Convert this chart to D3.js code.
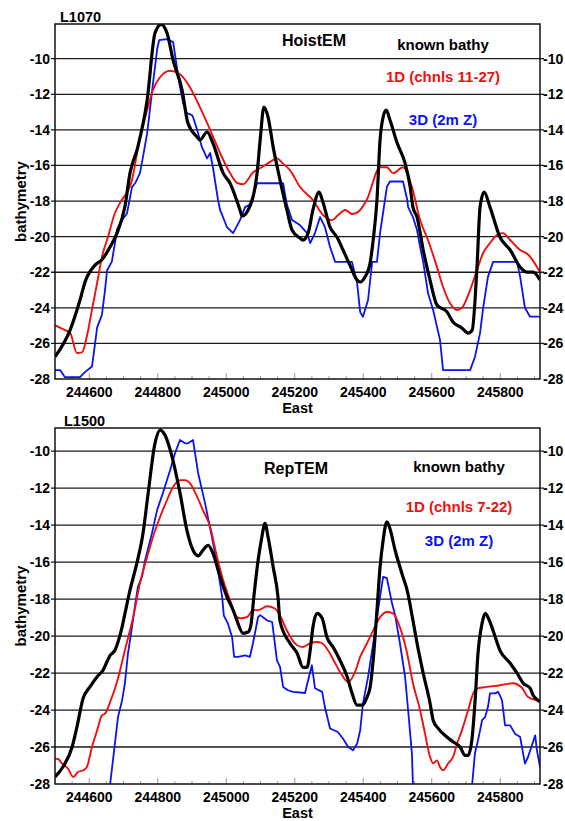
<!DOCTYPE html>
<html>
<head>
<meta charset="utf-8">
<script src="https://cdn.jsdelivr.net/npm/d3@7"></script>
<style>
  body { margin: 0; background: #fff; }
  text { font-family: "Liberation Sans", Arial, sans-serif; font-weight: bold; }
</style>
</head>
<body>
<div id="vis"></div>
<script>
// tick values shared by both panels
const xTicks = [244600, 244800, 245000, 245200, 245400, 245600, 245800];
const yTicks = [-10, -12, -14, -16, -18, -20, -22, -24, -26, -28];

// L1070 / HoistEM  -- [East, depth]
const topBathy = [
  [244500, -26.75], [244544, -25.25], [244573, -23.56], [244588, -22.53], [244617, -21.6],
  [244637, -21.3], [244661, -20.57], [244681, -19.8], [244704, -18.32], [244719, -16.43],
  [244742, -14.95], [244769, -12.33], [244792, -8.56], [244810, -8.07], [244827, -8.56],
  [244845, -10.1], [244871, -11.76], [244888, -13.62], [244915, -14.4], [244923, -14.57],
  [244944, -14.12], [244961, -14.74], [244991, -16.43], [245011, -17.0], [245040, -18.5],
  [245046, -18.84], [245064, -18.5], [245090, -16.43], [245099, -14.57], [245110, -12.72],
  [245122, -13.28], [245137, -14.97], [245157, -16.82], [245177, -18.5], [245192, -19.63],
  [245215, -20.08], [245224, -20.19], [245239, -19.8], [245253, -18.5], [245271, -17.5],
  [245283, -18.11], [245303, -19.46], [245323, -20.02], [245341, -20.75], [245361, -21.6],
  [245382, -22.44], [245391, -22.55], [245405, -22.27], [245420, -21.48], [245429, -20.19],
  [245440, -17.94], [245449, -14.57], [245458, -13.28], [245467, -12.89], [245478, -13.45],
  [245499, -14.74], [245522, -15.87], [245537, -17.21], [245545, -18.34], [245557, -18.9],
  [245575, -20.75], [245595, -22.44], [245615, -23.84], [245645, -24.24], [245662, -24.8],
  [245688, -25.13], [245706, -25.42], [245718, -25.25], [245732, -21.71], [245741, -18.34],
  [245753, -17.5], [245770, -18.34], [245799, -20.02], [245829, -20.75], [245858, -21.71],
  [245878, -21.99], [245896, -21.99], [245916, -22.44]
];
const top1D = [
  [244500, -24.97], [244529, -25.25], [244544, -25.4], [244564, -26.54], [244579, -26.5],
  [244593, -25.6], [244608, -24.1], [244623, -22.6], [244637, -21.15], [244655, -20.0],
  [244675, -18.67], [244690, -18.1], [244725, -16.8], [244748, -14.4], [244769, -12.9],
  [244786, -11.76], [244807, -11.03], [244836, -10.68], [244865, -10.87], [244894, -11.6],
  [244923, -12.72], [244953, -14.0], [244982, -15.3], [245011, -16.43], [245034, -17.0],
  [245049, -17.05], [245078, -16.4], [245104, -16.1], [245128, -15.8], [245148, -15.6],
  [245166, -15.9], [245186, -16.26], [245215, -17.2], [245253, -17.94], [245283, -18.8],
  [245309, -19.07], [245326, -18.8], [245347, -18.5], [245367, -18.73], [245391, -18.5],
  [245411, -17.9], [245449, -16.1], [245469, -16.1], [245487, -16.43], [245516, -16.1],
  [245542, -17.2], [245566, -19.07], [245589, -20.19], [245615, -21.7], [245633, -22.83],
  [245653, -23.73], [245674, -24.12], [245688, -24.0], [245712, -23.0], [245732, -21.88],
  [245750, -20.92], [245770, -20.36], [245791, -19.9], [245808, -19.8], [245829, -20.19],
  [245858, -20.75], [245881, -21.0], [245916, -21.99]
];
const top3D = [
  [244500, -27.5], [244515, -27.5], [244529, -27.9], [244573, -27.9], [244588, -27.6],
  [244608, -27.3], [244617, -26.0], [244623, -25.1], [244637, -24.4], [244646, -23.0],
  [244652, -21.9], [244666, -21.4], [244675, -20.36], [244681, -19.6], [244696, -19.07],
  [244710, -18.7], [244725, -17.2], [244734, -17.0], [244748, -16.43], [244757, -15.5],
  [244769, -14.2], [244777, -12.9], [244786, -11.4], [244798, -9.5], [244804, -8.96],
  [244827, -8.9], [244845, -9.07], [244856, -10.5], [244865, -11.6], [244874, -12.5],
  [244885, -13.06], [244900, -13.17], [244903, -13.28], [244915, -14.0], [244929, -14.97],
  [244944, -15.6], [244953, -15.3], [244961, -16.1], [244976, -17.94], [244982, -18.5],
  [245002, -19.46], [245020, -19.8], [245040, -19.07], [245055, -18.34], [245069, -18.2],
  [245090, -17.0], [245119, -17.0], [245166, -17.0], [245177, -18.2], [245192, -19.07],
  [245215, -19.35], [245236, -19.8], [245245, -20.36], [245259, -19.8], [245274, -18.9],
  [245288, -19.46], [245303, -20.58], [245318, -21.42], [245367, -21.42], [245382, -22.6],
  [245391, -24.24], [245399, -24.5], [245414, -23.56], [245426, -21.42], [245440, -21.42],
  [245449, -19.8], [245469, -17.2], [245478, -16.9], [245516, -16.9], [245528, -17.9],
  [245531, -18.34], [245545, -18.9], [245557, -19.63], [245566, -20.58], [245575, -21.42],
  [245589, -23.17], [245604, -24.12], [245624, -25.8], [245633, -27.5], [245712, -27.5],
  [245726, -26.76], [245741, -25.42], [245750, -24.0], [245764, -22.26], [245779, -21.42],
  [245849, -21.42], [245858, -22.26], [245872, -24.0], [245887, -24.5], [245916, -24.5]
];

// L1500 / RepTEM
const botBathy = [
  [244500, -27.62], [244523, -27.08], [244550, -26.0], [244564, -24.92], [244582, -23.37],
  [244602, -22.75], [244623, -22.2], [244640, -21.85], [244661, -21.04], [244675, -20.77],
  [244684, -20.32], [244696, -19.5], [244704, -18.8], [244719, -17.52], [244739, -16.06],
  [244757, -14.44], [244772, -12.27], [244792, -9.57], [244807, -8.86], [244821, -9.13],
  [244842, -10.32], [244865, -12.27], [244885, -14.27], [244903, -15.36], [244918, -15.66],
  [244932, -15.36], [244947, -15.09], [244961, -15.52], [244982, -16.8], [245002, -17.88],
  [245020, -18.6], [245031, -19.15], [245049, -19.85], [245064, -19.78], [245072, -19.4],
  [245081, -17.8], [245093, -15.9], [245104, -14.64], [245113, -13.9], [245122, -14.64],
  [245137, -16.26], [245151, -17.88], [245157, -19.2], [245186, -20.39], [245207, -20.93],
  [245224, -21.69], [245236, -21.69], [245245, -20.77], [245253, -19.52], [245265, -18.77],
  [245280, -19.04], [245294, -20.07], [245312, -20.6], [245332, -21.31], [245353, -22.2],
  [245367, -23.08], [245382, -23.74], [245397, -23.74], [245411, -23.3], [245420, -22.77],
  [245429, -21.3], [245440, -18.6], [245449, -16.28], [245458, -14.82], [245469, -13.82],
  [245478, -14.2], [245493, -15.36], [245516, -16.8], [245528, -17.52], [245545, -19.15],
  [245557, -20.39], [245575, -22.01], [245595, -23.63], [245604, -24.55], [245618, -24.98],
  [245645, -25.47], [245662, -25.72], [245683, -26.0], [245697, -26.45], [245706, -26.45],
  [245718, -25.47], [245726, -23.63], [245735, -20.93], [245747, -19.3], [245756, -18.77],
  [245764, -18.98], [245779, -19.7], [245799, -20.77], [245829, -21.47], [245849, -22.01],
  [245867, -22.55], [245887, -22.82], [245896, -23.2], [245910, -23.47], [245916, -23.55]
];
const bot1D = [
  [244500, -26.63], [244509, -26.65], [244520, -26.88], [244538, -27.17], [244553, -27.62],
  [244567, -27.35], [244582, -27.26], [244593, -27.08], [244608, -26.0], [244623, -25.1],
  [244637, -24.29], [244646, -24.2], [244661, -23.56], [244675, -22.84], [244690, -21.85],
  [244704, -20.77], [244719, -19.69], [244728, -19.0], [244748, -17.14], [244769, -15.72],
  [244786, -14.64], [244807, -13.55], [244827, -12.65], [244845, -11.93], [244865, -11.57],
  [244880, -11.57], [244894, -11.73], [244915, -12.47], [244932, -13.19], [244953, -14.1],
  [244973, -15.72], [244991, -16.98], [245011, -18.06], [245031, -18.97], [245040, -19.04],
  [245061, -18.97], [245078, -18.6], [245093, -18.6], [245119, -18.39], [245142, -18.51],
  [245160, -19.0], [245177, -19.7], [245207, -20.5], [245224, -20.59], [245245, -20.39],
  [245265, -20.32], [245280, -20.39], [245297, -20.77], [245318, -21.47], [245338, -22.12],
  [245356, -22.5], [245376, -21.94], [245391, -21.13], [245411, -20.39], [245429, -19.69],
  [245449, -18.98], [245469, -18.7], [245487, -18.77], [245507, -19.52], [245528, -20.93],
  [245545, -22.55], [245566, -24.01], [245580, -25.25], [245595, -26.54], [245604, -26.88],
  [245615, -26.72], [245624, -27.08], [245633, -27.26], [245648, -26.88], [245662, -26.54],
  [245674, -25.8], [245688, -25.1], [245706, -24.01], [245721, -23.1], [245735, -22.82],
  [245761, -22.75], [245799, -22.66], [245837, -22.55], [245864, -22.82], [245881, -23.3],
  [245907, -23.47], [245916, -23.5]
];
const bot3D = [
  [244640, -29.5], [244661, -28.0], [244675, -25.8], [244684, -24.37], [244696, -23.47],
  [244704, -22.57], [244713, -20.95], [244725, -19.5], [244734, -18.3], [244742, -17.34],
  [244754, -16.8], [244763, -15.9], [244783, -14.45], [244798, -13.19], [244815, -12.27],
  [244836, -11.03], [244850, -10.13], [244865, -9.4], [244880, -9.58], [244888, -9.58],
  [244903, -9.4], [244918, -11.2], [244938, -12.81], [244958, -14.64], [244973, -16.08],
  [244988, -17.88], [244993, -18.9], [245005, -19.33], [245017, -20.05], [245023, -21.13],
  [245034, -21.13], [245055, -21.04], [245069, -21.13], [245078, -20.39], [245093, -18.97],
  [245099, -18.87], [245119, -19.15], [245134, -19.24], [245148, -21.31], [245157, -21.67],
  [245166, -22.75], [245180, -22.93], [245195, -23.02], [245230, -23.08], [245239, -22.39],
  [245250, -21.58], [245259, -22.82], [245280, -23.02], [245288, -23.84], [245303, -25.0],
  [245326, -25.19], [245341, -25.55], [245356, -26.0], [245370, -26.18], [245382, -25.82],
  [245391, -25.1], [245399, -23.65], [245414, -22.21], [245429, -20.41], [245440, -19.0],
  [245449, -17.88], [245458, -16.8], [245469, -16.87], [245484, -18.23], [245493, -18.87],
  [245507, -20.39], [245522, -22.2], [245531, -24.01], [245542, -26.34], [245545, -28.0],
  [245560, -30.5], [245700, -30.5], [245718, -28.0], [245726, -26.34], [245735, -25.64],
  [245747, -24.55], [245756, -24.37], [245764, -23.84], [245770, -23.1], [245785, -23.1],
  [245794, -23.02], [245805, -23.47], [245814, -24.83], [245829, -24.83], [245843, -25.28],
  [245858, -25.46], [245872, -26.9], [245881, -26.54], [245902, -25.37], [245907, -26.18],
  [245916, -27.08]
];

const panels = [
  {
    id: "p1", line: "L1070", lineX: 60, method: "HoistEM", oneD: "1D (chnls 11-27)",
    top: 24, bottom: 379, yMax: -8.05, legendX: 443,
    titleY: 46, titleX: 314, legendY: [50, 82, 125],
    bathy: topBathy, d1: top1D, d3: top3D
  },
  {
    id: "p2", line: "L1500", lineX: 64, method: "RepTEM", oneD: "1D (chnls 7-22)",
    top: 428, bottom: 784, yMax: -8.75, legendX: 459,
    titleY: 474, titleX: 296, legendY: [472, 512, 546],
    bathy: botBathy, d1: bot1D, d3: bot3D
  }
];

const W = 565, H = 821;
const left = 55, right = 540;

const svg = d3.select("#vis").append("svg")
  .attr("width", W).attr("height", H)
  .style("background", "#fff");

const xScale = d3.scaleLinear().domain([244500, 245916]).range([left, right]);

panels.forEach(p => {
  const yScale = d3.scaleLinear().domain([-28, p.yMax]).range([p.bottom, p.top]);
  const g = svg.append("g");

  svg.append("clipPath").attr("id", "clip-" + p.id)
    .append("rect")
    .attr("x", left).attr("y", p.top)
    .attr("width", right - left).attr("height", p.bottom - p.top);

  // horizontal grid, a bit past the frame on both sides
  g.selectAll(".grid")
    .data(yTicks.filter(t => t > -28))
    .enter().append("line")
    .attr("x1", left - 4).attr("x2", right + 4)
    .attr("y1", d => yScale(d)).attr("y2", d => yScale(d))
    .attr("stroke", "#1a1a1a").attr("stroke-width", 1.3);

  // small inward ticks on the East axis
  const minor = d3.range(244550, 245916, 50);
  g.selectAll(".xt")
    .data(minor)
    .enter().append("line")
    .attr("x1", d => xScale(d)).attr("x2", d => xScale(d))
    .attr("y1", p.bottom)
    .attr("y2", d => p.bottom - (xTicks.includes(d) ? 6 : 3))
    .attr("stroke", "#999").attr("stroke-width", 1);

  const plot = g.append("g").attr("clip-path", `url(#clip-${p.id})`);
  const line = d3.line().x(d => xScale(d[0])).y(d => yScale(d[1]));

  plot.append("path").datum(p.d3)
    .attr("fill", "none").attr("stroke", "#0a14f0").attr("stroke-width", 1.8)
    .attr("stroke-linejoin", "round")
    .attr("d", line);

  plot.append("path").datum(p.d1)
    .attr("fill", "none").attr("stroke", "#f01010").attr("stroke-width", 1.9)
    .attr("d", line.curve(d3.curveMonotoneX));

  plot.append("path").datum(p.bathy)
    .attr("fill", "none").attr("stroke", "#000").attr("stroke-width", 3.2)
    .attr("stroke-linejoin", "round")
    .attr("d", line.curve(d3.curveMonotoneX));

  // frame
  g.append("rect")
    .attr("x", left).attr("y", p.top)
    .attr("width", right - left).attr("height", p.bottom - p.top)
    .attr("fill", "none").attr("stroke", "#111").attr("stroke-width", 1.5);

  // tick labels
  g.selectAll(".yl")
    .data(yTicks)
    .enter().append("text")
    .attr("x", left - 5).attr("y", d => yScale(d) + 5)
    .attr("text-anchor", "end").attr("font-size", 14)
    .text(d => d);

  g.selectAll(".yr")
    .data(yTicks)
    .enter().append("text")
    .attr("x", right + 3).attr("y", d => yScale(d) + 5)
    .attr("text-anchor", "start").attr("font-size", 14)
    .text(d => d);

  g.selectAll(".xl")
    .data(xTicks)
    .enter().append("text")
    .attr("x", d => xScale(d)).attr("y", p.bottom + 18)
    .attr("text-anchor", "middle").attr("font-size", 14)
    .text(d => d);

  // axis titles
  g.append("text")
    .attr("x", (left + right) / 2).attr("y", p.bottom + 34)
    .attr("text-anchor", "middle").attr("font-size", 14.5)
    .text("East");

  g.append("text")
    .attr("transform", `translate(26,${(p.top + p.bottom) / 2}) rotate(-90)`)
    .attr("text-anchor", "middle").attr("font-size", 15)
    .text("bathymetry");

  g.append("text")
    .attr("x", p.lineX).attr("y", p.top - 2)
    .attr("font-size", 14.5)
    .text(p.line);

  // panel annotations
  g.append("text")
    .attr("x", p.titleX).attr("y", p.titleY)
    .attr("text-anchor", "middle").attr("font-size", 16)
    .text(p.method);

  const legend = [
    { t: "known bathy", c: "#000" },
    { t: p.oneD, c: "#f01010" },
    { t: "3D (2m Z)", c: "#0a14f0" }
  ];
  g.selectAll(".lg")
    .data(legend)
    .enter().append("text")
    .attr("x", p.legendX).attr("y", (d, i) => p.legendY[i])
    .attr("text-anchor", "middle").attr("font-size", 15)
    .attr("fill", d => d.c)
    .text(d => d.t);
});
</script>
</body>
</html>
